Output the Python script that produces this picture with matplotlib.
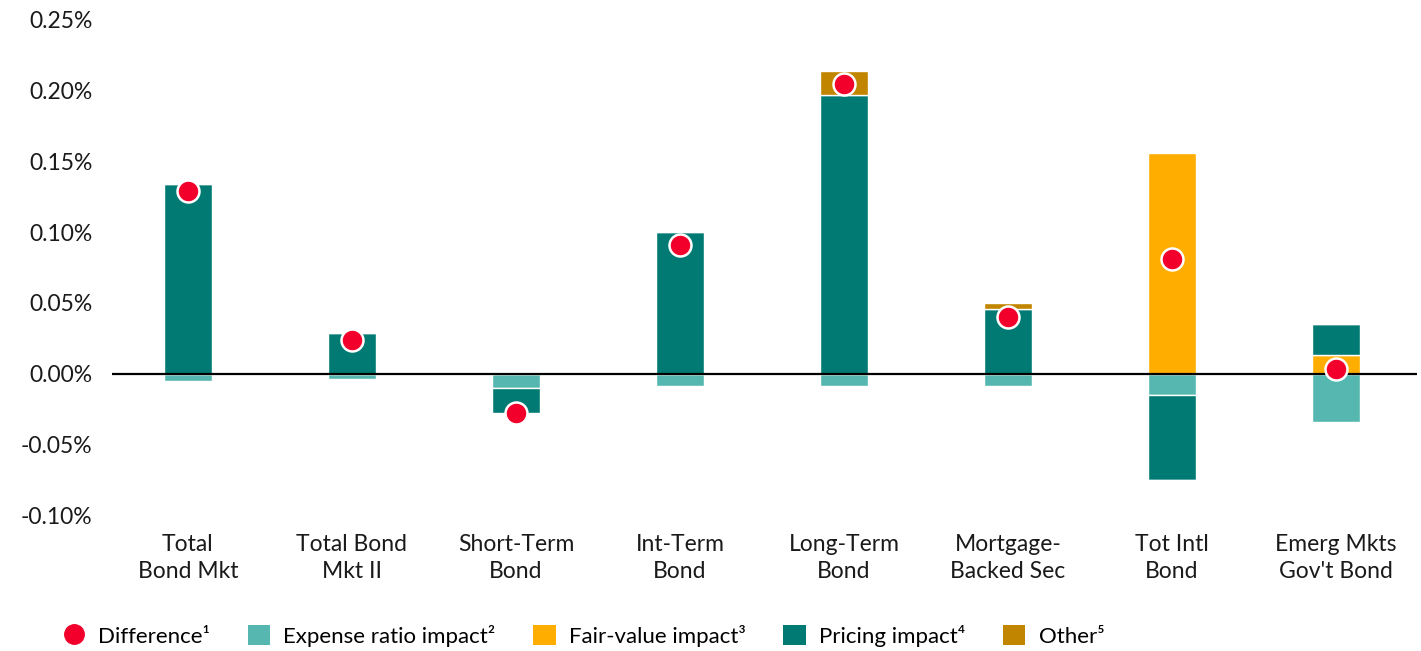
import matplotlib
matplotlib.use("Agg")
import matplotlib.pyplot as plt
import numpy as np
from matplotlib.lines import Line2D
from matplotlib.patches import Patch
from matplotlib.ticker import FuncFormatter

plt.rcParams['font.family'] = ['Lato', 'DejaVu Sans']

categories = ["Total\nBond Mkt", "Total Bond\nMkt II", "Short-Term\nBond", "Int-Term\nBond",
              "Long-Term\nBond", "Mortgage-\nBacked Sec", "Tot Intl\nBond", "Emerg Mkts\nGov't Bond"]
expense = [-0.005, -0.004, -0.010, -0.009, -0.009, -0.009, -0.015, -0.034]
fair_value = [0.0, 0.0, 0.0, 0.0, 0.0, 0.0, 0.156, 0.013]
pricing = [0.134, 0.029, -0.018, 0.100, 0.197, 0.046, -0.060, 0.022]
other = [0.0, 0.0, 0.0, 0.0, 0.017, 0.004, -0.001, 0.0]
difference = [0.129, 0.024, -0.028, 0.091, 0.205, 0.040, 0.081, 0.003]
yticks = [-0.10, -0.05, 0.00, 0.05, 0.10, 0.15, 0.20, 0.25]

c_exp = "#55B7AF"
c_fv = "#FFAE00"
c_pr = "#007A72"
c_ot = "#C18500"
c_diff = "#F2002B"

fig = plt.figure(figsize=(14.21, 6.51), dpi=100)
ax = fig.add_axes([112/1421, 1 - 515/651, (1417-112)/1421, (515-20)/651])

x = np.arange(len(categories))
w = 0.29
pos = np.zeros(len(categories))
neg = np.zeros(len(categories))
for vals, col in [(expense, c_exp), (fair_value, c_fv), (pricing, c_pr), (other, c_ot)]:
    v = np.array(vals)
    bottoms = np.where(v >= 0, pos, neg)
    ax.bar(x, v, w, bottom=bottoms, color=col, edgecolor="white", linewidth=1.0, zorder=2)
    pos = pos + np.where(v >= 0, v, 0)
    neg = neg + np.where(v < 0, v, 0)

ax.axhline(0, color="black", linewidth=1.6, zorder=3)
ax.scatter(x, difference, s=250, color=c_diff, edgecolor="white", linewidth=1.8, zorder=4)

ax.set_xlim(-0.463, 7.494)
ax.set_ylim(-0.10, 0.25)
ax.set_yticks(yticks)
ax.yaxis.set_major_formatter(FuncFormatter(lambda v, p: f"{v:.2f}%"))
ax.set_xticks(x)
ax.set_xticklabels(categories, fontsize=16.5, color="#1a1a1a", linespacing=1.35)
ax.tick_params(axis="both", length=0, labelsize=16.5, colors="#1a1a1a")
ax.tick_params(axis="x", pad=14)
ax.tick_params(axis="y", pad=14)
for s in ax.spines.values():
    s.set_visible(False)

handles = [
    Line2D([], [], marker="o", linestyle="none", markersize=14, markerfacecolor=c_diff, markeredgecolor=c_diff),
    Patch(facecolor=c_exp), Patch(facecolor=c_fv), Patch(facecolor=c_pr), Patch(facecolor=c_ot),
]
labels = ["Difference¹", "Expense ratio impact²", "Fair-value impact³", "Pricing impact⁴", "Other⁵"]
fig.legend(handles, labels, loc="center left", bbox_to_anchor=(0.030, 0.023), ncol=5, frameon=False,
           fontsize=16, handlelength=1.0, handleheight=1.0, handletextpad=0.6, columnspacing=1.7)

fig.savefig("out.png", dpi=100)
